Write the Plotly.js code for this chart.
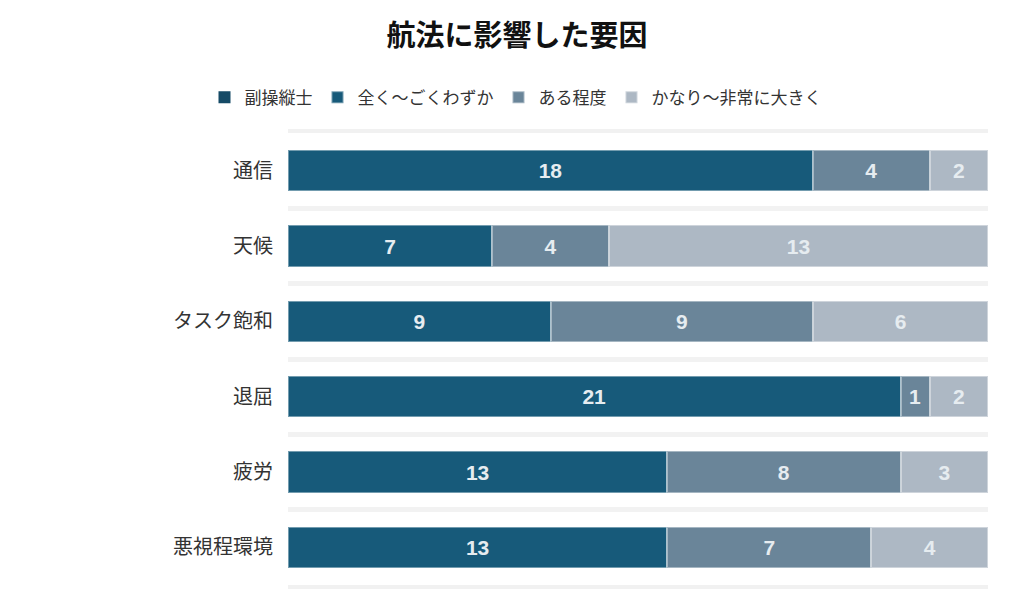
<!DOCTYPE html>
<html>
<head>
<meta charset="utf-8">
<script src="https://cdn.plot.ly/plotly-3.0.1.min.js"></script>
<style>
    body { margin: 0; background: #fff; }
    #chart { width: 1035px; height: 591px; }
</style>
</head>
<body>
<div id="chart"></div>
<script>
// 航法に影響した要因 - stacked horizontal bars

const categories = ['通信', '天候', 'タスク飽和', '退屈', '疲労', '悪視程環境'];
const seriesNames = ['副操縦士', '全く～ごくわずか', 'ある程度', 'かなり～非常に大きく'];
const pilotGroup = [0, 0, 0, 0, 0, 0];      // legend-only group entry
const littleOrNone = [18, 7, 9, 21, 13, 13];
const moderate = [4, 4, 9, 1, 8, 7];
const largeOrVery = [2, 13, 6, 2, 3, 4];

const colors = ['#154a66', '#175a7a', '#6a8599', '#adb8c4'];
const fontFamily = '"Noto Sans CJK JP", "Noto Sans", sans-serif';

function barTrace(name, values, color, showText) {
    return {
        type: 'bar',
        orientation: 'h',
        name: name,
        y: categories,
        x: values,
        marker: {
            color: color,
            line: { color: showText ? 'rgba(255,255,255,0.4)' : 'rgba(0,0,0,0)', width: showText ? 2 : 0 }
        },
        text: showText ? values.map(String) : undefined,
        textposition: showText ? 'inside' : 'none',
        insidetextanchor: 'middle',
        constraintext: 'none',
        textfont: { family: '"Liberation Sans", Arial, sans-serif', size: 21, color: '#e6ecf0', weight: 'bold' },
        hoverinfo: 'name+x'
    };
}

const data = [
    barTrace(seriesNames[0], pilotGroup, colors[0], false),
    barTrace(seriesNames[1], littleOrNone, colors[1], true),
    barTrace(seriesNames[2], moderate, colors[2], true),
    barTrace(seriesNames[3], largeOrVery, colors[3], true)
];

const layout = {
    width: 1035,
    height: 591,
    barmode: 'stack',
    bargap: 0.45,
    paper_bgcolor: '#ffffff',
    plot_bgcolor: '#ffffff',
    font: { family: fontFamily, color: '#333333' },
    title: {
        text: '航法に影響した要因',
        font: { family: fontFamily, size: 29, color: '#111111', weight: 'bold' },
        xref: 'paper',
        x: 0.327,
        xanchor: 'center',
        yref: 'container',
        y: 0.94,
        yanchor: 'middle'
    },
    legend: {
        orientation: 'h',
        x: 0.325,
        xanchor: 'center',
        y: 1.078,
        yanchor: 'middle',
        font: { family: fontFamily, size: 17, color: '#333333' },
        traceorder: 'normal',
        itemclick: false
    },
    margin: { l: 288, r: 47, t: 133, b: 6, autoexpand: false },
    xaxis: {
        range: [0, 24],
        showgrid: false,
        zeroline: false,
        showticklabels: false,
        showline: true,
        mirror: true,
        linecolor: '#f1f1f1',
        linewidth: 4,
        fixedrange: true
    },
    yaxis: {
        autorange: 'reversed',
        tickson: 'boundaries',
        showgrid: true,
        gridcolor: '#f2f2f2',
        gridwidth: 5,
        ticks: '',
        ticklabelstandoff: 14,
        tickfont: { family: fontFamily, size: 20, color: '#333333' },
        fixedrange: true
    },
    showlegend: true
};

Plotly.newPlot('chart', data, layout, { displayModeBar: false, responsive: false });
</script>
</body>
</html>
